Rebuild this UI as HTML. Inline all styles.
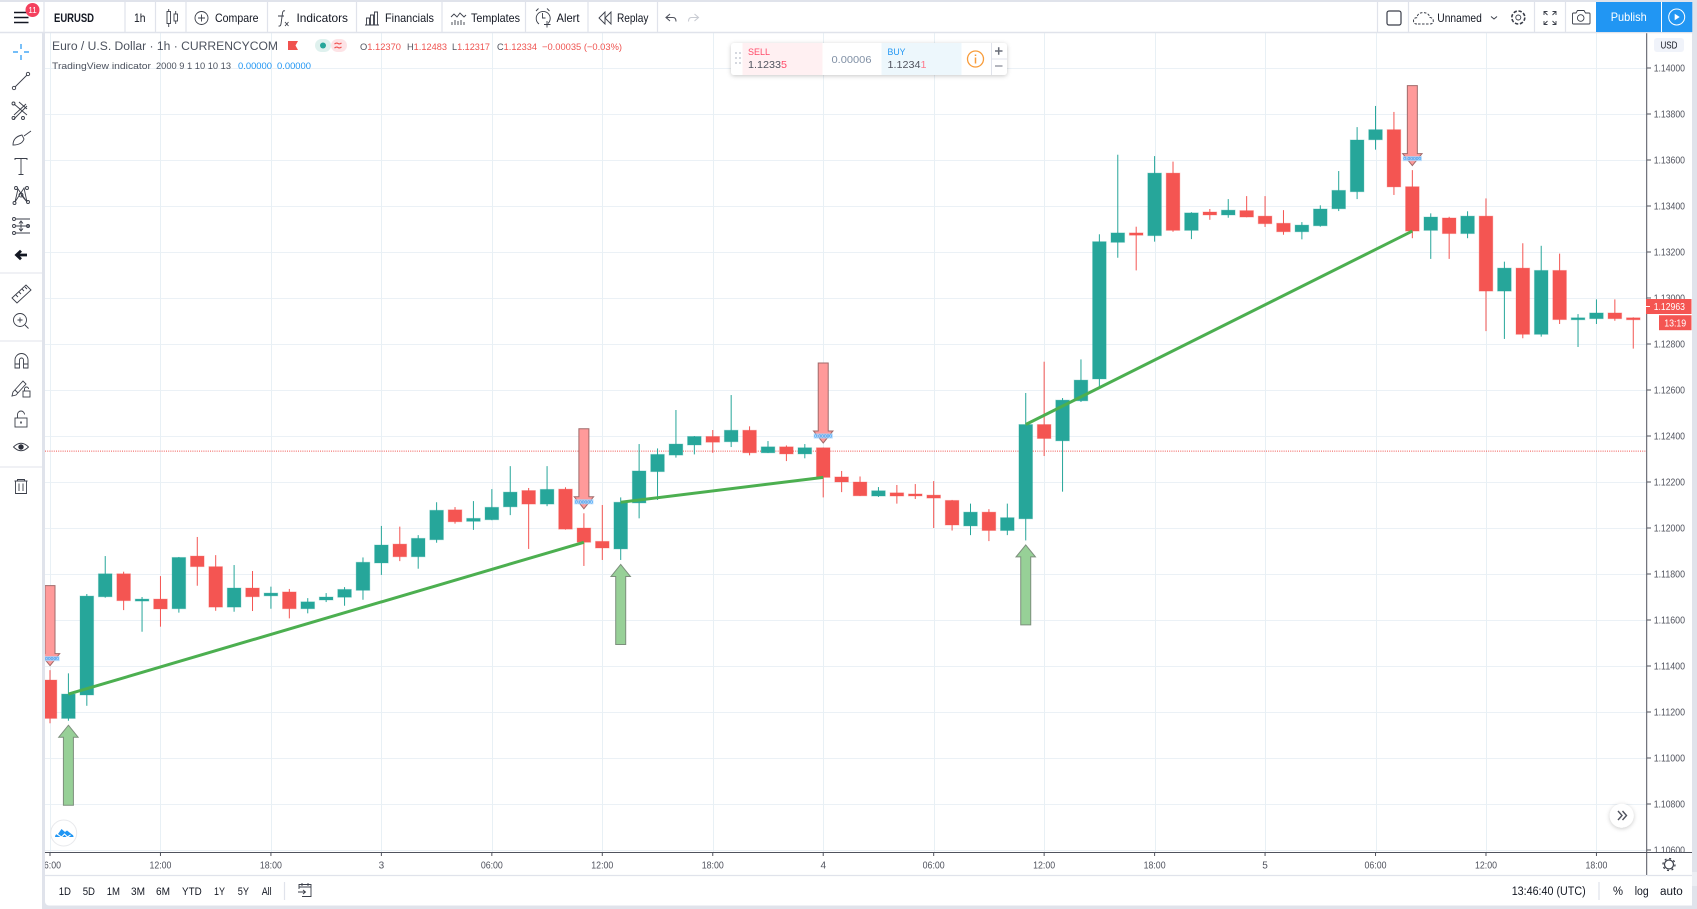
<!DOCTYPE html>
<html lang="en">
<head>
<meta charset="utf-8">
<title>EURUSD 1h chart</title>
<style>
html,body{margin:0;padding:0;background:#e0e3eb;width:1697px;height:909px;overflow:hidden}
svg{display:block;font-family:"Liberation Sans",sans-serif}
.tb{font-size:12px;fill:#131722}
.ic{fill:none;stroke:#3a3e49;stroke-width:0.9}
.sep{stroke:#e0e3eb;stroke-width:1.2}
.tick{font-size:10px;fill:#50535e}
</style>
</head>
<body>
<svg id="stage" width="1697" height="909" viewBox="0 0 1697 909">
<defs>
<clipPath id="plotClip"><rect x="45" y="33" width="1601.5" height="819"/></clipPath>
<clipPath id="axisClip"><rect x="1647" y="33" width="45" height="819"/></clipPath>
<clipPath id="timeClip"><rect x="45" y="853" width="1601" height="22"/></clipPath>
<filter id="softShadow" x="-20%" y="-20%" width="140%" height="150%"><feDropShadow dx="0" dy="1" stdDeviation="2" flood-color="#000" flood-opacity="0.22"/></filter>
</defs>
<rect x="0" y="0" width="1697" height="909" fill="#e0e3eb"/>
<rect x="0" y="2" width="1692" height="30" fill="#fff"/>
<rect x="0" y="33" width="42" height="876" fill="#fff"/>
<path d="M45 33H1692V905.5H49a4 4 0 0 1-4-4Z" fill="#fff"/>

<g id="gridLayer" clip-path="url(#plotClip)"></g>
<g id="plotLayer" clip-path="url(#plotClip)"></g>
<g id="axisLayer"></g>

<!-- legend -->
<g>
<text x="52" y="50" font-size="11.5" fill="#4c525e" textLength="226" lengthAdjust="spacingAndGlyphs">Euro / U.S. Dollar · 1h · CURRENCYCOM</text>
<path d="M288 41h10l-2.5 4.5 2.5 4.5h-10z" fill="#f0524f"/>
<rect x="315" y="39" width="16" height="13" rx="6.5" fill="#dff1ee"/>
<rect x="331" y="39" width="16" height="13" rx="6.5" fill="#fde3e6"/>
<circle cx="323" cy="45.5" r="3" fill="#26a69a"/>
<path d="M334.5 44q2-1.500 3.500-.5t3.500-.5M334.500 48q2-1.500 3.500-.5t3.500-.5" fill="none" stroke="#f0524f" stroke-width="1.100"/>
<g font-size="9.500" fill="#ef5350">
<text x="360" y="50" textLength="41" lengthAdjust="spacingAndGlyphs"><tspan fill="#50535e">O</tspan>1.12370</text>
<text x="407" y="50" textLength="40" lengthAdjust="spacingAndGlyphs"><tspan fill="#50535e">H</tspan>1.12483</text>
<text x="452" y="50" textLength="38" lengthAdjust="spacingAndGlyphs"><tspan fill="#50535e">L</tspan>1.12317</text>
<text x="497" y="50" textLength="40" lengthAdjust="spacingAndGlyphs"><tspan fill="#50535e">C</tspan>1.12334</text>
<text x="542" y="50" textLength="80" lengthAdjust="spacingAndGlyphs">−0.00035 (−0.03%)</text>
</g>
<text x="52" y="69" font-size="9.500" fill="#4c525e" textLength="99" lengthAdjust="spacingAndGlyphs">TradingView indicator</text>
<text x="156" y="69" font-size="9.500" fill="#4c525e" textLength="75" lengthAdjust="spacingAndGlyphs">2000 9 1 10 10 13</text>
<text x="238" y="69" font-size="9.500" fill="#2196f3" textLength="34" lengthAdjust="spacingAndGlyphs">0.00000</text>
<text x="277" y="69" font-size="9.500" fill="#2196f3" textLength="34" lengthAdjust="spacingAndGlyphs">0.00000</text>
</g>

<!-- sell / buy widget -->
<g>
<rect x="731" y="43" width="276" height="32" rx="3" fill="#fff" filter="url(#softShadow)"/>
<path d="M735 52h2v2h-2zM739 52h2v2h-2zM735 57h2v2h-2zM739 57h2v2h-2zM735 62h2v2h-2zM739 62h2v2h-2z" fill="#d5d8df"/>
<rect x="742.500" y="43" width="80" height="32" fill="#fff0f2"/>
<text x="748" y="55" font-size="9.500" fill="#ff4a68" textLength="22" lengthAdjust="spacingAndGlyphs">SELL</text>
<text x="748" y="68" font-size="10.500" fill="#50535e" textLength="39" lengthAdjust="spacingAndGlyphs">1.1233<tspan fill="#ff4a68">5</tspan></text>
<text x="851.500" y="63" font-size="10.500" fill="#8090a5" text-anchor="middle" textLength="40" lengthAdjust="spacingAndGlyphs">0.00006</text>
<rect x="881.500" y="43" width="80" height="32" fill="#edf7fc"/>
<text x="887.500" y="55" font-size="9.500" fill="#2196f3" textLength="18" lengthAdjust="spacingAndGlyphs">BUY</text>
<text x="887.500" y="68" font-size="10.500" fill="#50535e" textLength="39" lengthAdjust="spacingAndGlyphs">1.1234<tspan fill="#ff7a8c">1</tspan></text>
<circle cx="975.500" cy="59" r="8" fill="none" stroke="#f89c3a" stroke-width="1.300"/>
<path d="M975.500 54.500v1.500M975.500 57.500v6" stroke="#f89c3a" stroke-width="1.500"/>
<path d="M991.500 43v32M991.500 59h15.500" stroke="#e0e3eb" stroke-width="1"/>
<path d="M995 51h7.500M998.700 47.300v7.500" stroke="#6a6f7a" stroke-width="1.500"/>
<path d="M995 66h7.500" stroke="#9a9ea8" stroke-width="1.500"/>
</g>

<!-- top toolbar -->
<g>
<g class="sep">
<path d="M44 2v30M125 2v30M155.500 2v30M186 2v30M267.500 2v30M356.500 2v30M442 2v30M525.500 2v30M588 2v30M657.500 2v30M1377.500 2v30M1408.500 2v30M1534.500 2v30M1565.500 2v30"/>
<path d="M0 32.500H1692" stroke-width="1.500"/>
</g>
<g>
<path d="M14 12.500h14.500M14 17.500h14.500M14 22.500h14.500" stroke="#131722" stroke-width="1.600"/>
<circle cx="32.500" cy="10" r="7" fill="#f4405d"/>
<text x="32.500" y="13" font-size="8" fill="#fff" text-anchor="middle">11</text>
</g>
<text x="54" y="22" class="tb" font-weight="bold" textLength="40" lengthAdjust="spacingAndGlyphs">EURUSD</text>
<text x="134" y="22" class="tb" textLength="11.500" lengthAdjust="spacingAndGlyphs">1h</text>
<g class="ic"><rect x="167" y="11.500" width="3.500" height="12"/><path d="M168.700 9v2.500M168.700 23.500V27"/><rect x="174" y="14" width="3.500" height="7"/><path d="M175.700 11v3M175.700 21v3"/></g>
<g class="ic"><circle cx="201.500" cy="18" r="6.500"/><path d="M198 18h7M201.500 14.500v7"/></g>
<text x="215" y="22" class="tb" textLength="43.500" lengthAdjust="spacingAndGlyphs">Compare</text>
<g class="ic"><path d="M285 11q-2-1-2.500 2l-1.500 11q-.5 2.500-2.500 2"/><path d="M278 16h6M285 22l3.500 4M288.500 22l-3.500 4"/></g>
<text x="296.500" y="22" class="tb" textLength="51.500" lengthAdjust="spacingAndGlyphs">Indicators</text>
<g class="ic"><path d="M365 25h14M366.500 25v-7h3v7M370.500 25V15h3v10M374.500 25V12h3v13"/></g>
<text x="385" y="22" class="tb" textLength="49" lengthAdjust="spacingAndGlyphs">Financials</text>
<g class="ic"><path d="M451 17l3-3 3 3 3-4 4 4 2-2M452 25v-3M455 25v-5M458 25v-4M461 25v-5M464 25v-3"/></g>
<text x="471" y="22" class="tb" textLength="49" lengthAdjust="spacingAndGlyphs">Templates</text>
<g class="ic"><path d="M548 23.500a7 7 0 1 0-9 .5M536 11l2.500-2.500M549.500 11l-2.500-2.500M542.500 13v5h3M547 21v6.500M544 24.500h6.500"/></g>
<text x="556.500" y="22" class="tb" textLength="23" lengthAdjust="spacingAndGlyphs">Alert</text>
<g class="ic"><path d="M605 12l-6 6 6 6zM611 12l-6 6 6 6z"/></g>
<text x="617" y="22" class="tb" textLength="31.500" lengthAdjust="spacingAndGlyphs">Replay</text>
<path d="M670 14l-4 3.500 4 3.500M666 17.500h7q3 0 3 4" fill="none" stroke="#50535e" stroke-width="1.100"/>
<path d="M694.500 14l4 3.500-4 3.500M698.500 17.500h-7q-3 0-3 4" fill="none" stroke="#c8cbd2" stroke-width="1.100"/>
<rect x="1387" y="11" width="14" height="14" rx="2" fill="none" stroke="#3a3e49" stroke-width="1.200"/>
<path d="M1417 24q-3.500 0-3.500-3.200 0-3 3.300-3.200 1-5 6.500-5 5.500.2 6.500 4.800 3.500.5 3.500 3.500 0 3-3.500 3.100z" fill="none" stroke="#3a3e49" stroke-dasharray="2.500 1.500"/>
<text x="1437.300" y="22" class="tb" textLength="44.500" lengthAdjust="spacingAndGlyphs">Unnamed</text>
<path d="M1491 16.500l3 2.500 3-2.500" fill="none" stroke="#3a3e49"/>
<g class="ic"><circle cx="1518.300" cy="17.500" r="2.500"/><circle cx="1518.300" cy="17.500" r="6.500" stroke-dasharray="3.400 1.700" stroke-width="1.600"/></g>
<g class="ic"><path d="M1544 15v-3.500h3.500M1556 15v-3.500h-3.500M1544 21v3.500h3.500M1556 21v3.500h-3.500M1544.500 12l3 3M1555.500 12l-3 3M1544.500 24l3-3M1555.500 24l-3-3"/></g>
<g class="ic"><path d="M1573 13h3l1.500-2.500h6.500l1.500 2.500h3.500a1 1 0 0 1 1 1v9a1 1 0 0 1-1 1h-15.500a1 1 0 0 1-1-1v-9a1 1 0 0 1 1-1z"/><circle cx="1580.700" cy="18" r="3.300"/></g>
<rect x="1596" y="2" width="65" height="30" fill="#2196f3"/>
<text x="1628.700" y="21" font-size="12" fill="#fff" text-anchor="middle" textLength="36" lengthAdjust="spacingAndGlyphs">Publish</text>
<rect x="1662" y="2" width="30.300" height="30" fill="#2196f3"/>
<circle cx="1676.700" cy="17" r="8" fill="none" stroke="#fff"/>
<path d="M1674.700 13.800l5 3.200-5 3.200z" fill="#fff"/>
</g>

<!-- left toolbar -->
<g>
<path d="M21 44v5M21 55v5M13 52h5M24 52h5" stroke="#2196f3" stroke-width="1.200"/>
<g class="ic"><path d="M15 87l12-12"/><circle cx="14" cy="88" r="1.700"/><circle cx="28" cy="74" r="1.700"/></g>
<g class="ic"><path d="M14 104l13 11M19 102l8 7M14 115l12-11M14 119l13-13"/><circle cx="13.500" cy="103.500" r="1.500"/><circle cx="13.500" cy="118" r="1.500"/><circle cx="23" cy="118" r="1.500"/></g>
<g class="ic"><path d="M13 145q0-8 9-10l2 4q-2 6-11 6zM24 136l7-5"/></g>
<g class="ic"><path d="M15 160v-1.500h12v1.500M21 158.500v16M18.500 174.500h5"/></g>
<g class="ic"><path d="M15 202l3-13 9 13-3-14-9 14M21 195l6 7"/><circle cx="16" cy="188" r="1.500"/><circle cx="27" cy="188" r="1.500"/><circle cx="14.500" cy="203" r="1.500"/><circle cx="28" cy="202" r="1.500"/><circle cx="21" cy="195" r="2"/></g>
<g class="ic"><path d="M16 219h14M16 226h14M16 233h14M21 221v10M19 223.500l2-2.500 2 2.500M19 228.500l2 2.500 2-2.500"/><circle cx="14" cy="219" r="1.500"/><circle cx="14" cy="226" r="1.500"/><circle cx="14" cy="233" r="1.500"/><circle cx="28" cy="226" r="1.500"/></g>
<path d="M27 255H17M21 250.700l-4.500 4.300 4.500 4.300" fill="none" stroke="#131722" stroke-width="2.800"/>
<path d="M0 273H42M0 341H42M0 467H42" stroke="#e0e3eb"/>
<g class="ic"><path d="M12 298l14-13 5 5-14 13zM16 295l2 2M19 292l2 2M22 289l2 2M25 287l2 2"/></g>
<g class="ic"><circle cx="20" cy="320" r="6.500"/><path d="M25 325l3.500 3.500M17.500 320h5M20 317.500v5"/></g>
<g class="ic"><path d="M15 368v-8a6.500 6.500 0 0 1 13 0v8h-4.500v-8a2 2 0 0 0-4 0v8zM15 364h4.500M23.500 364h4.500"/></g>
<g class="ic"><path d="M13 392l10-11 3 3-10 11-4 1zM15 390l3 3"/><rect x="23" y="391" width="7" height="6"/><path d="M24.500 391v-2a2 2 0 0 1 4 0"/></g>
<g class="ic"><rect x="15" y="418" width="12" height="9"/><path d="M17.500 418v-3.500a3.500 3.500 0 0 1 7 0"/><path d="M21 421.500v2" stroke-width="1.600"/></g>
<g><path d="M13.500 447q7.500-7.500 15 0-7.500 7.500-15 0z" class="ic"/><circle cx="21" cy="447" r="2.700" fill="#2a2e39"/></g>
<g class="ic"><path d="M15.500 481v12.500h11V481M14.500 481h13M17.500 481v-1.500h7v1.500M19 483.500v7.500M23 483.500v7.500"/></g>
</g>

<!-- on-chart buttons -->
<circle cx="63.700" cy="833" r="13" fill="#fff" stroke="#e8e9ec"/>
<path d="M55 837q0-3 3-3l3.500-5 3.500 3 2-1.500 5 4q1.500.5 1.500 2.500z" fill="#2196f3"/>
<path d="M57 834l4.500 3 3-3 3 3 3-2" fill="none" stroke="#fff" stroke-width="1.100"/>
<circle cx="1621.700" cy="815.700" r="12" fill="#fff" filter="url(#softShadow)"/>
<path d="M1618 811l4 4.500-4 4.500M1622.500 811l4 4.500-4 4.500" fill="none" stroke="#50535e" stroke-width="1.400"/>

<!-- bottom toolbar -->
<g>
<path d="M45 875.500H1646.500M1647 875.500H1692" class="sep"/>
<g font-size="11" fill="#131722">
<text x="58.700" y="895" textLength="12.300" lengthAdjust="spacingAndGlyphs">1D</text>
<text x="82.700" y="895" textLength="12.300" lengthAdjust="spacingAndGlyphs">5D</text>
<text x="106.700" y="895" textLength="13.300" lengthAdjust="spacingAndGlyphs">1M</text>
<text x="131" y="895" textLength="14" lengthAdjust="spacingAndGlyphs">3M</text>
<text x="156" y="895" textLength="14" lengthAdjust="spacingAndGlyphs">6M</text>
<text x="182" y="895" textLength="19.700" lengthAdjust="spacingAndGlyphs">YTD</text>
<text x="214" y="895" textLength="11" lengthAdjust="spacingAndGlyphs">1Y</text>
<text x="237.700" y="895" textLength="11.300" lengthAdjust="spacingAndGlyphs">5Y</text>
<text x="261.700" y="895" textLength="10" lengthAdjust="spacingAndGlyphs">All</text>
</g>
<path d="M284.500 882v18" class="sep"/>
<g class="ic"><path d="M299 889v-4.500h12v12h-9M299 887h12M302 883v3M308 883v3M298 892h7M303 890l2.500 2-2.500 2"/></g>
<text x="1511.700" y="895" font-size="11.500" fill="#131722" textLength="74" lengthAdjust="spacingAndGlyphs">13:46:40 (UTC)</text>
<path d="M1599 882v18" class="sep"/>
<text x="1613" y="895" font-size="12" fill="#131722" textLength="10" lengthAdjust="spacingAndGlyphs">%</text>
<text x="1634.700" y="895" font-size="11.500" fill="#131722" textLength="14" lengthAdjust="spacingAndGlyphs">log</text>
<text x="1660" y="895" font-size="11.500" fill="#131722" textLength="22.700" lengthAdjust="spacingAndGlyphs">auto</text>
<g class="ic"><circle cx="1669" cy="864.500" r="4.500" stroke-width="1.200"/><circle cx="1669" cy="864.500" r="6" stroke-dasharray="2 2.700" stroke-width="1.300"/></g>
</g>
<rect x="1692" y="872" width="5" height="14" fill="#eceef3"/>
</svg>

<script>
const categories = [
"06","07","08","09","10","11","12","13","14","15","16","17","18","19","20","21","22","23",
"00","01","02","03","04","05","06","07","08","09","10","11","12","13","14","15","16","17","18","19","20","21","22","23",
"00","01","02","03","04","05","06","07","08","09","10","11","12","13","14","15","16","17","18","19","20","21","22","23",
"00","01","02","03","04","05","06","07","08","09","10","11","12","13","14","15","16","17","18","19","20"
];
const opens = [
1.11339,1.11172,1.11274,1.11701,1.11801,1.11684,1.11691,1.11649,1.11878,1.11832,
1.11656,1.11739,1.11705,1.11722,1.11649,1.11687,1.11699,1.11729,1.11848,1.11930,
1.11875,1.11949,1.12079,1.12029,1.12036,1.12092,1.12163,1.12104,1.12169,1.12000,
1.11942,1.11909,1.12109,1.12245,1.12317,1.12361,1.12398,1.12375,1.12425,1.12327,
1.12353,1.12322,1.12349,1.12222,1.12200,1.12139,1.12153,1.12148,1.12143,1.12120,
1.12009,1.12069,1.11989,1.12040,1.12450,1.12379,1.12553,1.12648,1.13242,1.13283,
1.13271,1.13543,1.13294,1.13374,1.13361,1.13380,1.13356,1.13325,1.13288,1.13314,
1.13388,1.13462,1.13688,1.13732,1.13484,1.13294,1.13348,1.13280,1.13356,1.13030,
1.13130,1.12842,1.13120,1.12906,1.12910,1.12935,1.12914
];
const highs = [
1.11382,1.11368,1.11713,1.11878,1.11810,1.11700,1.11791,1.11874,1.11961,1.11882,
1.11839,1.11813,1.11745,1.11735,1.11695,1.11717,1.11743,1.11872,1.12009,1.12006,
1.11969,1.12112,1.12091,1.12117,1.12169,1.12269,1.12174,1.12269,1.12177,1.12064,
1.12100,1.12133,1.12365,1.12346,1.12513,1.12400,1.12426,1.12578,1.12442,1.12378,
1.12359,1.12365,1.12350,1.12248,1.12224,1.12178,1.12187,1.12191,1.12204,1.12122,
1.12106,1.12082,1.12106,1.12587,1.12723,1.12565,1.12733,1.13277,1.13623,1.13310,
1.13617,1.13593,1.13373,1.13387,1.13430,1.13443,1.13443,1.13382,1.13330,1.13403,
1.13552,1.13743,1.13835,1.13809,1.13556,1.13368,1.13353,1.13377,1.13433,1.13158,
1.13238,1.13227,1.13193,1.12930,1.12994,1.12994,1.12916
];
const lows = [
1.11151,1.11162,1.11227,1.11697,1.11643,1.11549,1.11571,1.11632,1.11749,1.11640,
1.11636,1.11639,1.11649,1.11607,1.11629,1.11678,1.11662,1.11688,1.11796,1.11856,
1.11823,1.11936,1.12019,1.11992,1.12034,1.12056,1.11909,1.12095,1.11993,1.11835,
1.11861,1.11861,1.12042,1.12122,1.12306,1.12320,1.12327,1.12352,1.12316,1.12326,
1.12291,1.12303,1.12133,1.12156,1.12139,1.12135,1.12106,1.12126,1.12000,1.11989,
1.11969,1.11943,1.11969,1.11946,1.12313,1.12158,1.12548,1.12615,1.13175,1.13120,
1.13245,1.13288,1.13256,1.13340,1.13349,1.13351,1.13309,1.13275,1.13255,1.13310,
1.13378,1.13430,1.13645,1.13448,1.13260,1.13170,1.13170,1.13260,1.12856,1.12822,
1.12825,1.12832,1.12887,1.12787,1.12887,1.12901,1.12780
];
const closes = [
1.11172,1.11278,1.11704,1.11801,1.11684,1.11691,1.11648,1.11872,1.11832,1.11656,
1.11739,1.11701,1.11717,1.11649,1.11679,1.11700,1.11733,1.11851,1.11926,1.11875,
1.11955,1.12077,1.12027,1.12042,1.12090,1.12156,1.12104,1.12168,1.11995,1.11938,
1.11913,1.12112,1.12248,1.12320,1.12365,1.12398,1.12373,1.12425,1.12327,1.12353,
1.12322,1.12349,1.12220,1.12200,1.12140,1.12162,1.12139,1.12141,1.12130,1.12013,
1.12069,1.11989,1.12045,1.12450,1.12389,1.12556,1.12643,1.13245,1.13283,1.13273,
1.13543,1.13294,1.13370,1.13361,1.13382,1.13352,1.13323,1.13288,1.13317,1.13387,
1.13468,1.13687,1.13732,1.13483,1.13291,1.13352,1.13280,1.13356,1.13030,1.13130,
1.12842,1.13120,1.12906,1.12914,1.12935,1.12910,1.12910
];
const priceTicks = [1.14,1.138,1.136,1.134,1.132,1.13,1.128,1.126,1.124,1.122,1.12,1.118,1.116,1.114,1.112,1.11,1.108,1.106];
const timeTickLabels = ["06:00","12:00","18:00","3","06:00","12:00","18:00","4","06:00","12:00","18:00","5","06:00","12:00","18:00"];
const sellSignalBars = [0,29,42,74];
const buySignalBars = [1,31,53];
const trendStartBars = [1,31,53];
const trendEndBars = [29,42,74];
const lastPrice = 1.12963;
const legendClose = 1.12334;
const countdownText = "13:19";

const SVG_NS = "http://www.w3.org/2000/svg";
const gridLayer = document.getElementById("gridLayer");
const plotLayer = document.getElementById("plotLayer");
const axisLayer = document.getElementById("axisLayer");
const BAR_STEP = 18.41, TICK_EVERY = 6, X0 = 50;
const PX_PER_UNIT = 23000, REF_PRICE = 1.138, REF_Y = 114;
function xScale(i){ return X0 + BAR_STEP * i; }
function yScale(p){ return REF_Y + (REF_PRICE - p) * PX_PER_UNIT; }
function make(tag, attrs){
  const el = document.createElementNS(SVG_NS, tag);
  for (const k in attrs) el.setAttribute(k, attrs[k]);
  return el;
}

priceTicks.forEach(function(p){
  const y = Math.round(yScale(p)) + 0.5;
  const line = make("line", {x1:45, x2:1646.5, y1:y, y2:y, stroke:"#ebf1f6", "stroke-width":1});
  
  
  gridLayer.appendChild(line);
});
timeTickLabels.forEach(function(label, k){
  const x = Math.round(xScale(k * TICK_EVERY)) + 0.5;
  const line = make("line", {x1:x, x2:x, y1:33, y2:852, stroke:"#e8f0f5", "stroke-width":1});
  
  
  gridLayer.appendChild(line);
});

const lastLine = make("line", {x1:45, x2:1646.5, y1:yScale(legendClose), y2:yScale(legendClose), stroke:"#ef5350", "stroke-width":1, "stroke-dasharray":"1 1.2"});


plotLayer.appendChild(lastLine);

categories.forEach(function(hour, i){
  const up = closes[i] >= opens[i];
  const color = up ? "#26a69a" : "#f45552";
  const x = xScale(i);
  const g = make("g", {});
  
  
  const wick = make("rect", {x:x-0.5, width:1, y:yScale(highs[i]), height:yScale(lows[i])-yScale(highs[i]), fill:color});
  
  
  g.appendChild(wick);
  const top = yScale(Math.max(opens[i], closes[i]));
  const bodyH = Math.abs(yScale(opens[i]) - yScale(closes[i]));
  const body = make("rect", {x:x-6.8, width:13.6, y:top, height:Math.max(bodyH, 2), fill:color, stroke:color, "stroke-opacity":0.3, "stroke-width":1});
  
  
  g.appendChild(body);
  plotLayer.appendChild(g);
});

trendStartBars.forEach(function(startBar, k){
  const endBar = trendEndBars[k];
  const seg = make("line", {x1:xScale(startBar), y1:yScale(closes[startBar]), x2:xScale(endBar), y2:yScale(closes[endBar]), stroke:"#4caf50", "stroke-width":3});
  
  
  plotLayer.appendChild(seg);
});

const ARROW_LEN = 80, HEAD_LEN = 12, HEAD_HALF = 9.7, SHAFT_HALF = 5, ARROW_GAP = 4.5;
function arrowPoints(x, tip, dir){
  return [
    [x, tip],
    [x + HEAD_HALF, tip + dir*HEAD_LEN],
    [x + SHAFT_HALF, tip + dir*HEAD_LEN],
    [x + SHAFT_HALF, tip + dir*ARROW_LEN],
    [x - SHAFT_HALF, tip + dir*ARROW_LEN],
    [x - SHAFT_HALF, tip + dir*HEAD_LEN],
    [x - HEAD_HALF, tip + dir*HEAD_LEN]
  ].map(function(p){ return p.join(","); }).join(" ");
}
sellSignalBars.forEach(function(bar){
  const x = xScale(bar);
  const tip = yScale(highs[bar]) - ARROW_GAP;
  const arrow = make("polygon", {points:arrowPoints(x, tip, -1), fill:"#ff9a9a", stroke:"#a06a6a", "stroke-width":1});
  
  
  plotLayer.appendChild(arrow);
  const tag = make("rect", {x:x-9.5, y:tip-9.5, width:19, height:5, fill:"#a9d4fb", opacity:0.85});
  
  
  plotLayer.appendChild(tag);
  const label = make("text", {x:x, y:tip-5.5, "font-size":4.5, fill:"#2196f3", "text-anchor":"middle", textLength:18, lengthAdjust:"spacingAndGlyphs"});
  
  
  label.textContent = "0.00000";
  plotLayer.appendChild(label);
});
buySignalBars.forEach(function(bar){
  const arrow = make("polygon", {points:arrowPoints(xScale(bar), yScale(lows[bar]) + ARROW_GAP, 1), fill:"#97d097", stroke:"#7c8f7c", "stroke-width":1});
  
  
  plotLayer.appendChild(arrow);
});

const priceAxisLine = make("line", {x1:1646.7, x2:1646.7, y1:33, y2:875, stroke:"#50535e", "stroke-width":1});


axisLayer.appendChild(priceAxisLine);
const timeAxisLine = make("line", {x1:45, x2:1692, y1:852.5, y2:852.5, stroke:"#50535e", "stroke-width":1});


axisLayer.appendChild(timeAxisLine);

const priceLabels = make("g", {"clip-path":"url(#axisClip)"});


axisLayer.appendChild(priceLabels);
priceTicks.forEach(function(p){
  const y = yScale(p);
  const mark = make("line", {x1:1647, x2:1651, y1:y, y2:y, stroke:"#50535e", "stroke-width":1});
  
  
  priceLabels.appendChild(mark);
  const t = make("text", {x:1653.7, y:y+3.6, class:"tick", textLength:31.3, lengthAdjust:"spacingAndGlyphs"});
  
  
  t.textContent = p.toFixed(5);
  priceLabels.appendChild(t);
});

const timeLabels = make("g", {"clip-path":"url(#timeClip)"});


axisLayer.appendChild(timeLabels);
timeTickLabels.forEach(function(label, k){
  const x = xScale(k * TICK_EVERY);
  const mark = make("line", {x1:x, x2:x, y1:853, y2:856, stroke:"#50535e", "stroke-width":1});
  
  
  timeLabels.appendChild(mark);
  const t = make("text", {x:x, y:868.5, class:"tick", "text-anchor":"middle"});
  if (label.length > 1) { t.setAttribute("textLength", 22); t.setAttribute("lengthAdjust", "spacingAndGlyphs"); }
  
  
  t.textContent = label;
  timeLabels.appendChild(t);
});

const usdBadge = make("rect", {x:1654, y:38, width:30, height:14, rx:3, fill:"#f0f3fa"});


axisLayer.appendChild(usdBadge);
const usdText = make("text", {x:1669, y:48.5, "font-size":10, fill:"#131722", "text-anchor":"middle", textLength:17, lengthAdjust:"spacingAndGlyphs"});


usdText.textContent = "USD";
axisLayer.appendChild(usdText);

const lastY = yScale(lastPrice);
const priceBox = make("rect", {x:1646, y:lastY-7.5, width:45.5, height:15, fill:"#f45552"});


axisLayer.appendChild(priceBox);
const priceTick = make("line", {x1:1646, x2:1650, y1:lastY, y2:lastY, stroke:"#fff", "stroke-width":1});


axisLayer.appendChild(priceTick);
const priceText = make("text", {x:1653.7, y:lastY+3.6, "font-size":10, fill:"#fff", textLength:31.3, lengthAdjust:"spacingAndGlyphs"});


priceText.textContent = lastPrice.toFixed(5);
axisLayer.appendChild(priceText);
const timerBox = make("rect", {x:1659, y:lastY+8.7, width:32.5, height:15, fill:"#f45552"});


axisLayer.appendChild(timerBox);
const timerText = make("text", {x:1675.2, y:lastY+19.8, "font-size":10, fill:"#fff", "text-anchor":"middle", textLength:22, lengthAdjust:"spacingAndGlyphs"});


timerText.textContent = countdownText;
axisLayer.appendChild(timerText);
</script>
</body>
</html>
